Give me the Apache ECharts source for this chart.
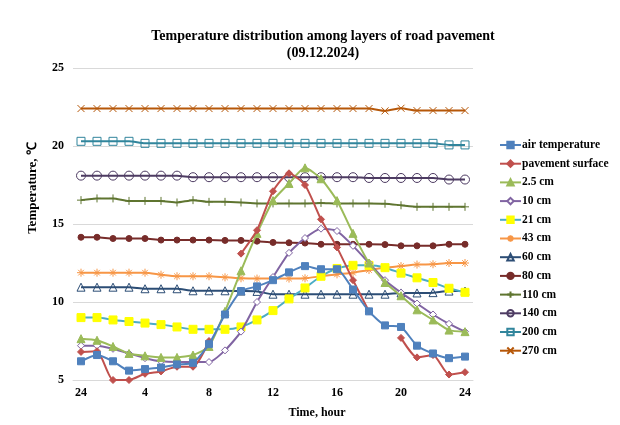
<!DOCTYPE html>
<html>
<head>
<meta charset="utf-8">
<script src="https://cdn.jsdelivr.net/npm/echarts@6/dist/echarts.min.js"></script>
<style>html,body{margin:0;padding:0;background:#fff}#c{width:620px;height:425px}</style>
</head>
<body>
<div id="c"></div>
<script>
var hours = ['24','1','2','3','4','5','6','7','8','9','10','11','12','13','14','15','16','17','18','19','20','21','22','23','24'];
var yTicks = [5, 10, 15, 20, 25];

var airTemperature = [6.2, 6.6, 6.2, 5.6, 5.7, 5.8, 6.0, 6.1, 7.3, 9.2, 10.7, 11.0, 11.4, 11.9, 12.3, 12.1, 12.1, 10.8, 9.4, 8.5, 8.4, 7.2, 6.7, 6.4, 6.5];
var pavementSurface = [6.8, 6.85, 5.0, 5.0, 5.4, 5.55, 5.85, 5.85, 7.5, null, 13.1, 14.6, 17.1, 18.25, 17.5, 15.3, 13.5, 11.4, 9.4, null, 7.7, 6.45, 6.6, 5.35, 5.5];
var cm2_5 = [7.65, 7.55, 7.15, 6.7, 6.55, 6.45, 6.45, 6.6, 7.15, 9.4, 12.0, 14.4, 16.5, 17.6, 18.6, 17.9, 16.5, 14.4, 12.5, 11.25, 10.4, 9.5, 8.85, 8.2, 8.1];
var cm10 = [7.2, 7.2, 7.0, 6.7, 6.4, 6.2, 6.15, 6.15, 6.15, 6.9, 8.1, 10.0, 11.6, 13.15, 14.1, 14.7, 14.55, 13.6, 12.5, 11.4, 10.6, 9.9, 9.2, 8.6, 8.1];
var cm21 = [9.0, 9.0, 8.85, 8.75, 8.65, 8.55, 8.4, 8.25, 8.25, 8.25, 8.4, 8.85, 9.45, 10.2, 10.9, 11.65, 12.15, 12.35, 12.35, 12.2, 11.85, 11.55, 11.25, 10.88, 10.62];
var cm43 = [11.88, 11.88, 11.88, 11.88, 11.88, 11.75, 11.65, 11.65, 11.65, 11.58, 11.52, 11.5, 11.5, 11.5, 11.52, 11.65, 11.77, 11.88, 12.05, 12.2, 12.3, 12.4, 12.42, 12.5, 12.5];
var cm60 = [10.95, 10.95, 10.95, 10.95, 10.85, 10.85, 10.85, 10.72, 10.72, 10.72, 10.7, 10.68, 10.5, 10.5, 10.5, 10.5, 10.5, 10.5, 10.5, 10.5, 10.58, 10.58, 10.6, 10.7, 10.7];
var cm80 = [14.15, 14.15, 14.07, 14.07, 14.07, 13.97, 13.97, 13.97, 13.97, 13.95, 13.95, 13.9, 13.82, 13.8, 13.78, 13.7, 13.7, 13.7, 13.7, 13.68, 13.6, 13.6, 13.6, 13.7, 13.7];
var cm110 = [16.53, 16.64, 16.64, 16.48, 16.48, 16.48, 16.38, 16.53, 16.42, 16.42, 16.38, 16.32, 16.32, 16.32, 16.32, 16.35, 16.32, 16.32, 16.32, 16.3, 16.2, 16.1, 16.1, 16.1, 16.1];
var cm140 = [18.1, 18.1, 18.1, 18.1, 18.1, 18.1, 18.1, 18.0, 18.0, 18.0, 18.0, 18.0, 18.0, 18.0, 18.0, 18.0, 18.0, 18.0, 17.95, 17.95, 17.95, 17.95, 17.95, 17.85, 17.85];
var cm200 = [20.3, 20.3, 20.3, 20.3, 20.17, 20.17, 20.17, 20.17, 20.17, 20.17, 20.17, 20.17, 20.17, 20.17, 20.17, 20.17, 20.17, 20.17, 20.17, 20.17, 20.17, 20.17, 20.17, 20.07, 20.07];
var cm270 = [22.4, 22.4, 22.4, 22.4, 22.4, 22.4, 22.4, 22.4, 22.4, 22.4, 22.4, 22.4, 22.4, 22.4, 22.4, 22.4, 22.4, 22.4, 22.4, 22.25, 22.42, 22.27, 22.27, 22.27, 22.27];

var seriesNames = ['air temperature', 'pavement surface', '2.5 cm', '10 cm', '21 cm', '43 cm', '60 cm', '80 cm', '110 cm', '140 cm', '200 cm', '270 cm'];
var seriesData = [airTemperature, pavementSurface, cm2_5, cm10, cm21, cm43, cm60, cm80, cm110, cm140, cm200, cm270];

var T = 'rgba(255,255,255,0)';
var styles = [
  {line:'#4F81BD', fill:'#4F81BD', border:'#4F81BD', symbol:'rect', size:7},
  {line:'#C0504D', fill:'#C0504D', border:'#C0504D', symbol:'diamond', size:7},
  {line:'#9BBB59', fill:'#9BBB59', border:'#9BBB59', symbol:'triangle', size:8},
  {line:'#8064A2', fill:'#ffffff', border:'#8064A2', symbol:'diamond', size:7},
  {line:'#4BACC6', fill:'#FFFF00', border:'#FFFF00', symbol:'rect', size:8},
  {line:'#F79646', fill:T, border:'#F79646', symbol:'path://M0,-1L0,1M-1,0L1,0M-0.7,-0.7L0.7,0.7M-0.7,0.7L0.7,-0.7', size:8},
  {line:'#2C4D75', fill:T, border:'#2C4D75', symbol:'triangle', size:8},
  {line:'#772C2A', fill:'#772C2A', border:'#772C2A', symbol:'circle', size:6},
  {line:'#5F7530', fill:T, border:'#5F7530', symbol:'path://M0,-1L0,1M-1,0L1,0', size:8},
  {line:'#4D3B62', fill:T, border:'#4D3B62', symbol:'circle', size:9},
  {line:'#31859C', fill:T, border:'#31859C', symbol:'rect', size:8},
  {line:'#B65708', fill:T, border:'#B65708', symbol:'path://M-1,-1L1,1M-1,1L1,-1', size:7}
];

var serif = '"Liberation Serif", "Times New Roman", serif';

var series = seriesNames.map(function (n, i) {
  var s = styles[i];
  return {
    name: n,
    type: 'line',
    data: seriesData[i],
    smooth: 0.2,
    connectNulls: false,
    symbol: s.symbol,
    symbolSize: s.size,
    showAllSymbol: true,
    color: s.line,
    lineStyle: {color: s.line, width: 2},
    itemStyle: {color: s.fill, borderColor: s.border, borderWidth: 1},
    z: 2 + (seriesNames.length - i)
  };
});

var chart = echarts.init(document.getElementById('c'), null, {renderer: 'canvas'});
chart.setOption({
  animation: false,
  backgroundColor: '#ffffff',
  title: {
    text: 'Temperature distribution among layers of road pavement\n(09.12.2024)',
    left: 318,
    top: 23,
    textAlign: 'center',
    textStyle: {fontFamily: serif, fontWeight: 'bold', fontSize: 14, color: '#000', lineHeight: 17}
  },
  grid: {left: 73, right: 147, top: 68, bottom: 45, containLabel: false},
  legend: {
    orient: 'vertical',
    left: 494,
    top: 134,
    itemWidth: 21,
    itemHeight: 8,
    itemGap: 6.7,
    data: seriesNames,
    textStyle: {fontFamily: serif, fontWeight: 'bold', fontSize: 11.5, lineHeight: 12, color: '#000', padding: [0,0,0,-4]}
  },
  xAxis: {
    type: 'category',
    data: hours,
    boundaryGap: true,
    axisLine: {show: true, lineStyle: {color: '#D9D9D9'}},
    axisTick: {show: false},
    axisLabel: {interval: 3, fontFamily: serif, fontWeight: 'bold', fontSize: 12, color: '#000', margin: 7}
  },
  yAxis: {
    type: 'value',
    min: yTicks[0],
    max: yTicks[yTicks.length - 1],
    interval: yTicks[1] - yTicks[0],
    axisLine: {show: false},
    axisTick: {show: false},
    splitLine: {lineStyle: {color: '#D9D9D9', width: 1}},
    axisLabel: {fontFamily: serif, fontWeight: 'bold', fontSize: 12, color: '#000', margin: 9}
  },
  graphic: [
    {type: 'text', x: 33, y: 188, rotation: Math.PI / 2,
     style: {text: 'Temperature, ℃', font: 'bold 13px ' + serif, fill: '#000', align: 'center', verticalAlign: 'middle'}},
    {type: 'text', x: 317, y: 413,
     style: {text: 'Time, hour', font: 'bold 12px ' + serif, fill: '#000', align: 'center', verticalAlign: 'middle'}}
  ],
  series: series
});
</script>
</body>
</html>
